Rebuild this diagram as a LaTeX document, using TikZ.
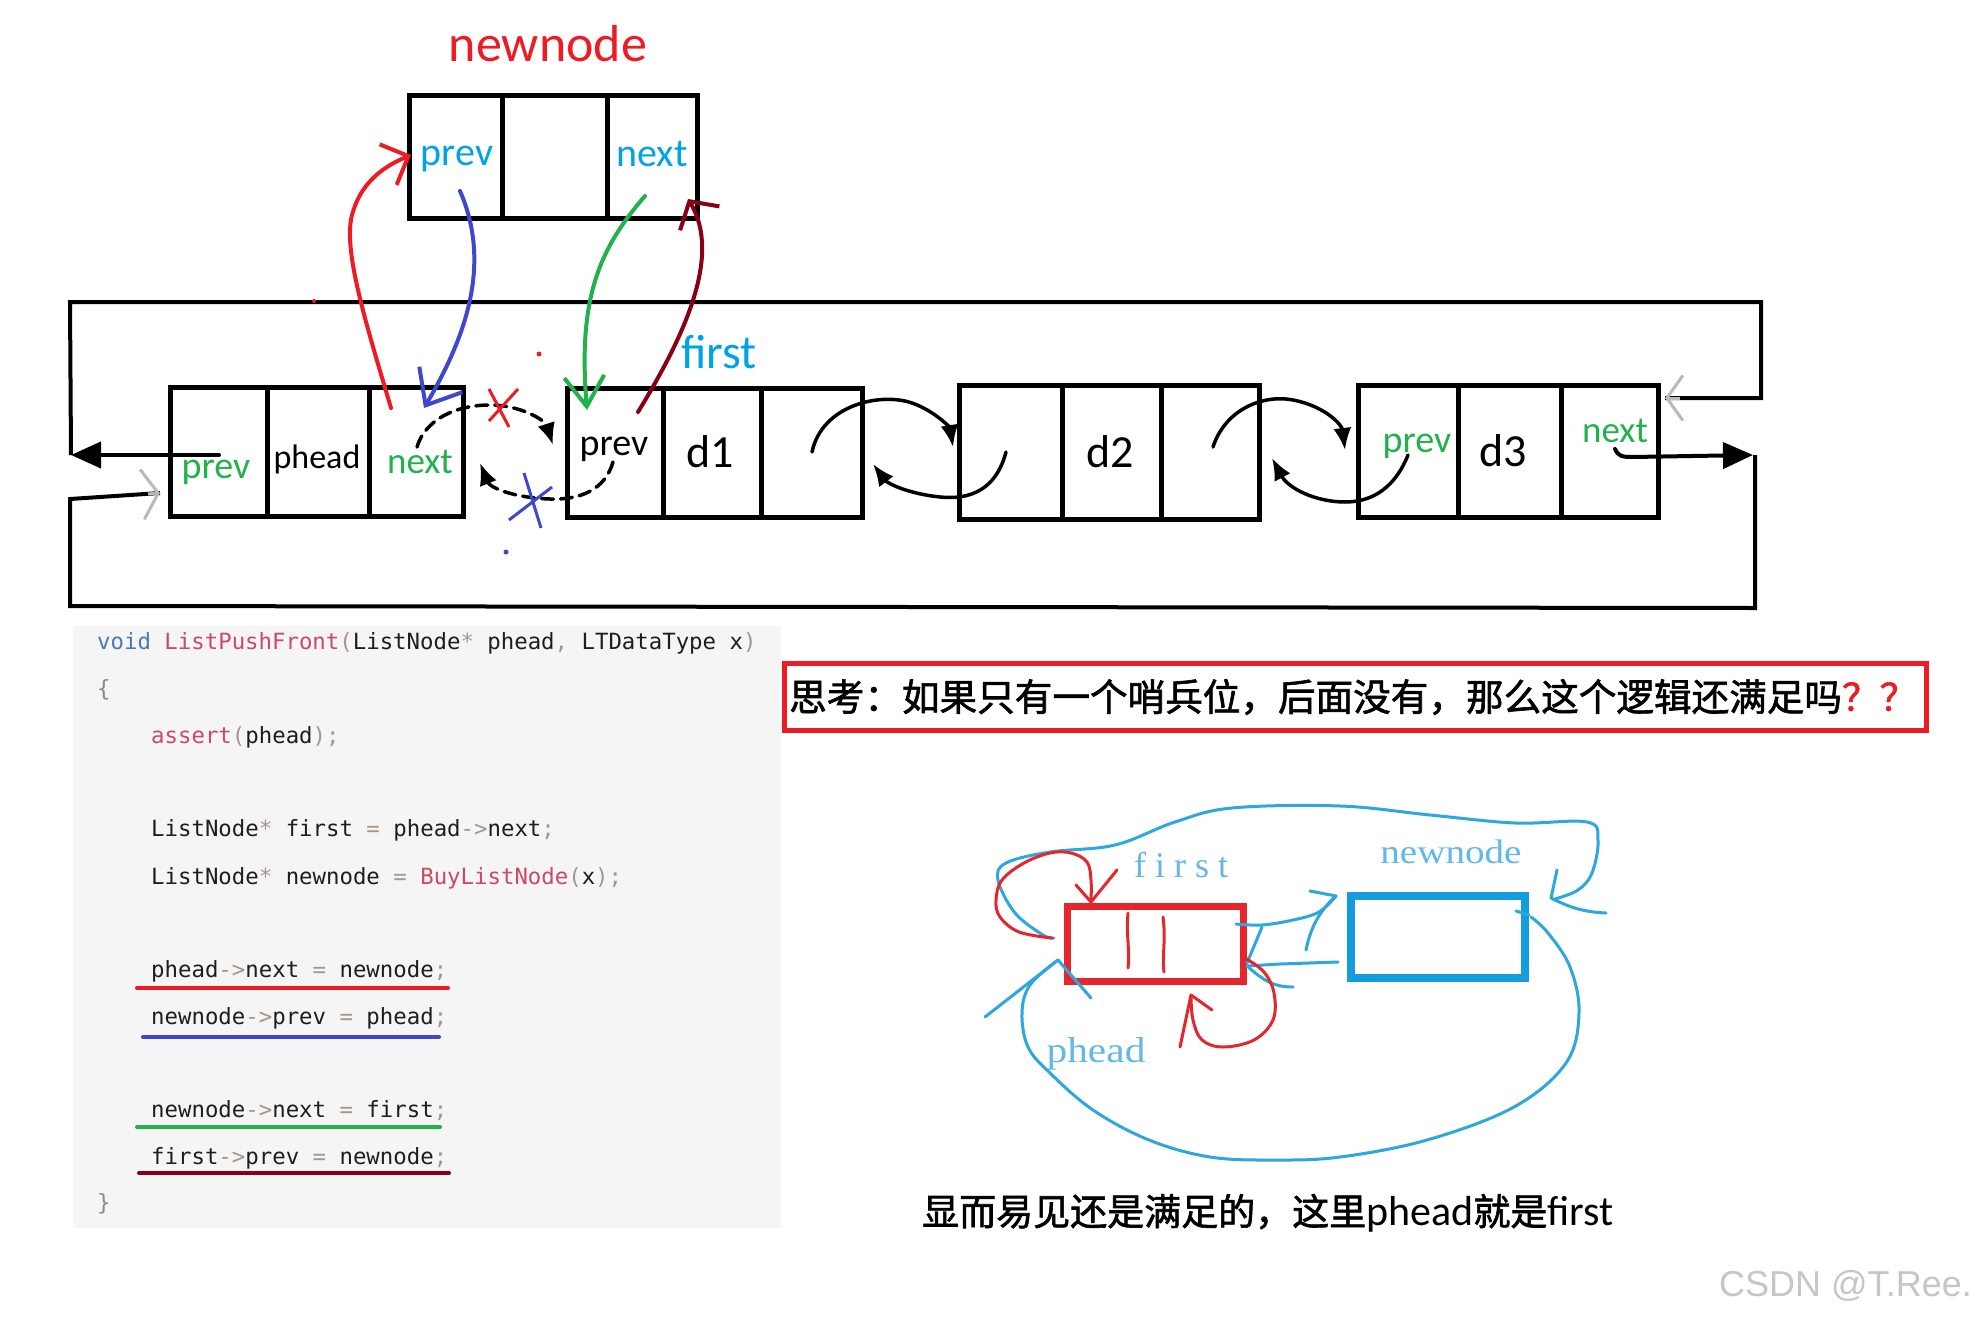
\documentclass[tikz,border=0pt]{standalone}
\usepackage{fontspec}
\setmainfont{Carlito}
\newfontfamily\cjkb[FakeBold=1.6]{Noto Sans CJK SC}
\newfontfamily\codef{DejaVu Sans Mono}
\newfontfamily\serf{Liberation Serif}
\newfontfamily\wmf{Liberation Sans}
\usetikzlibrary{arrows.meta}
\definecolor{pred}{HTML}{ED1C24}
\definecolor{pblue}{HTML}{3F48CC}
\definecolor{pgreen}{HTML}{22B14C}
\definecolor{pdred}{HTML}{880015}
\definecolor{pcyan}{HTML}{00A2E8}
\definecolor{codebg}{HTML}{F5F5F5}
\definecolor{kwc}{HTML}{4A78B0}
\definecolor{fnc}{HTML}{CA4A66}
\definecolor{puc}{HTML}{A6968A}
\definecolor{brc}{HTML}{8A8A8A}
\definecolor{txc}{HTML}{1E1E1E}
\definecolor{skb}{HTML}{2EA7DE}
\definecolor{skbox}{HTML}{149CDC}
\definecolor{skr}{HTML}{E5262D}
\definecolor{sktx}{HTML}{62B8E6}
\newcommand\cpu[1]{\textcolor{puc}{#1}}
\newcommand\fsz[1]{\fontsize{#1}{#1}\selectfont}
\begin{document}
\begin{tikzpicture}[x=1pt,y=-1pt,
  cell/.style={draw=black,line width=5pt,fill=white,inner sep=0pt},
  lbl/.style={inner sep=0pt},
  frame/.style={draw=black,line width=4pt,line join=miter},
  blk/.style={draw=black,line width=3.5pt,line cap=round},
  tri/.style={-{Latex[length=22pt,width=18pt]}},
  bigtri/.style={-{Triangle[length=30pt,width=26pt]}},
  dsh/.style={blk,dash pattern=on 12pt off 7pt},
  cline/.style={line width=4pt,line cap=round},
  gbarb/.style={draw=gray!55,line width=3pt,-{Straight Barb[length=16pt,width=50pt]}},
  code/.style={anchor=base west,inner sep=0pt,font=\codef\fsz{22.35},text=txc},
  uline/.style={line width=4pt,line cap=round},
  sk/.style={draw=skb,line width=3pt,line cap=round,line join=round},
  skred/.style={draw=skr,line width=3pt,line cap=round,line join=round},
  sktext/.style={inner sep=0pt,text=sktx,font=\serf\fsz{36}}
]
\useasboundingbox (0,0) rectangle (1975,1319);
\fill[white] (0,0) rectangle (1975,1319);

% ---------- newnode ----------
\node[lbl,text=pred,font=\fsz{52}] (nntitle) at (548,44) {newnode};
\node[cell,minimum width=92.5pt,minimum height=123pt] (n1) at (455.75,157) {};
\node[cell,minimum width=105pt,minimum height=123pt] (n2) at (554.5,157) {};
\node[cell,minimum width=90.5pt,minimum height=123pt] (n3) at (652.25,157) {};
\node[lbl,text=pcyan,font=\fsz{40}] (n1t) at (457,159) {prev};
\node[lbl,text=pcyan,font=\fsz{40}] (n3t) at (652,154) {next};

% ---------- list nodes ----------
\node[cell,minimum width=96.5pt,minimum height=129pt] (p1) at (218.75,452) {};
\node[cell,minimum width=102pt,minimum height=129pt] (p2) at (318,452) {};
\node[cell,minimum width=94.5pt,minimum height=129pt] (p3) at (416.25,452) {};
\node[cell,minimum width=95.5pt,minimum height=129pt] (a1) at (615.25,453) {};
\node[cell,minimum width=98pt,minimum height=129pt] (a2) at (712,453) {};
\node[cell,minimum width=101.5pt,minimum height=129pt] (a3) at (811.75,453) {};
\node[cell,minimum width=102.5pt,minimum height=134pt] (b1) at (1010.75,452.5) {};
\node[cell,minimum width=99pt,minimum height=134pt] (b2) at (1111.5,452.5) {};
\node[cell,minimum width=98.5pt,minimum height=134pt] (b3) at (1210.25,452.5) {};
\node[cell,minimum width=99.5pt,minimum height=132pt] (c1) at (1408.25,451.5) {};
\node[cell,minimum width=103pt,minimum height=132pt] (c2) at (1509.5,451.5) {};
\node[cell,minimum width=97.5pt,minimum height=132pt] (c3) at (1609.75,451.5) {};

\node[lbl,text=pgreen,font=\fsz{38}] (p1t) at (216,472) {prev};
\node[lbl,text=black,font=\fsz{34}] (p2t) at (317,459) {phead};
\node[lbl,text=pgreen,font=\fsz{37}] (p3t) at (420,462) {next};
\node[lbl,text=black,font=\fsz{38}] (a1t) at (614,449) {prev};
\node[lbl,text=black,font=\fsz{46}] (a2t) at (710,452) {d1};
\node[lbl,text=pcyan,font=\fsz{48}] (firstt) at (719,352) {first};
\node[lbl,text=black,font=\fsz{46}] (b2t) at (1110,452) {d2};
\node[lbl,text=pgreen,font=\fsz{38}] (c1t) at (1417,446) {prev};
\node[lbl,text=black,font=\fsz{46}] (c2t) at (1503,451) {d3};
\node[lbl,text=pgreen,font=\fsz{37}] (c3t) at (1615,431) {next};

% ---------- frame ----------
\coordinate (fTL) at (70,302);
\coordinate (fTR) at (1761,302);
\coordinate (fR1) at (1761,398);
\coordinate (fRin) at (1665,398);
\coordinate (fL1) at (71,455);
\coordinate (phprev) at (219,455);
\coordinate (d3nx) at (1615,449);
\coordinate (fBRt) at (1753,455);
\coordinate (fBR) at (1755,608);
\coordinate (fBL) at (70,606);
\coordinate (fL2) at (70,499);
\coordinate (fLin) at (160,493);
\draw[frame] (fL1) -- (fTL) -- (fTR) -- (fR1) -- (fRin);
\draw[gbarb,-{Straight Barb[length=16pt,width=45pt]}] (1680,398) -- (fRin);
\draw[blk,line width=4pt,bigtri] (phprev) -- (fL1);
\draw[blk,line width=4pt,bigtri] (d3nx) .. controls (1618,456) and (1622,457) .. (1632,457) -- (fBRt);
\draw[frame] (1755,455) -- (fBR) -- (fBL) -- (fL2) -- (fLin);
\draw[gbarb] (148,494) -- (fLin);

% ---------- black list connectors ----------
\coordinate (u1s) at (812,452);
\coordinate (u1e) at (953,447);
\draw[blk,tri] (u1s) .. controls (822,405) and (880,392) .. (912,403) .. controls (935,411) and (950,428) .. (u1e);
\coordinate (l1s) at (1006,452);
\coordinate (l1e) at (873,464);
\draw[blk,tri] (l1s) .. controls (996,490) and (970,500) .. (940,497) .. controls (910,494) and (888,484) .. (l1e);
\coordinate (u2s) at (1213,447);
\coordinate (u2e) at (1345,450);
\draw[blk,tri] (u2s) .. controls (1225,410) and (1262,394) .. (1293,400) .. controls (1325,406) and (1342,425) .. (u2e);
\coordinate (l2s) at (1408,455);
\coordinate (l2e) at (1272,458);
\draw[blk,tri] (l2s) .. controls (1396,485) and (1375,502) .. (1345,502) .. controls (1315,502) and (1288,488) .. (l2e);
\coordinate (u0s) at (417,447);
\coordinate (u0e) at (553,445);
\draw[dsh,tri] (u0s) .. controls (425,420) and (455,405) .. (490,405) .. controls (520,405) and (545,420) .. (u0e);
\coordinate (l0s) at (613,462);
\coordinate (l0e) at (480,463);
\draw[dsh,tri] (l0s) .. controls (605,490) and (580,500) .. (550,499) .. controls (515,498) and (490,488) .. (l0e);
\draw[pred,line width=3pt] (489,389) -- (509,427) (518,389) -- (489,421);
\draw[pblue,line width=3pt] (524,473) -- (541,528) (552,487) -- (509,520);
\fill[pred] (539,354) circle (2.5pt);
\fill[pblue] (506,552) circle (2.5pt);
\fill[pred] (314,301) circle (2pt);

% ---------- coloured arrows ----------
\coordinate (redS) at (391,408);
\coordinate (redE) at (411,155);
\draw[pred,cline,-{Straight Barb[length=22pt,width=44pt]}] (redS) .. controls (365,320) and (343,250) .. (352,215) .. controls (360,185) and (380,168) .. (redE);
\coordinate (blS) at (460,191);
\coordinate (blE) at (424,408);
\draw[pblue,cline,-{Straight Barb[length=30pt,width=50pt]}] (blS) .. controls (490,260) and (470,330) .. (blE);
\coordinate (grS) at (645,196);
\coordinate (grE) at (587,410);
\draw[pgreen,cline,-{Straight Barb[length=30pt,width=40pt]}] (grS) .. controls (598,250) and (578,300) .. (grE);
\coordinate (drS) at (638,412);
\coordinate (drE) at (688,199);
\draw[pdred,cline,-{Straight Barb[length=20pt,width=46pt]}] (drS) .. controls (685,335) and (722,255) .. (drE);

% ---------- code ----------
\node[fill=codebg,minimum width=708pt,minimum height=602pt,inner sep=0pt] (codebg) at (427,927) {};
\node[code] (k1) at (97,649) {\textcolor{kwc}{void} \textcolor{fnc}{ListPushFront}\cpu{(}ListNode\cpu{*} phead\cpu{,} LTDataType x\cpu{)}};
\node[code,text=brc] (k2) at (97,696) {\{};
\node[code] (k3) at (151,743) {\textcolor{fnc}{assert}\cpu{(}phead\cpu{);}};
\node[code] (k4) at (151,836) {ListNode\cpu{*} first \cpu{=} phead\cpu{->}next\cpu{;}};
\node[code] (k5) at (151,884) {ListNode\cpu{*} newnode \cpu{=} \textcolor{fnc}{BuyListNode}\cpu{(}x\cpu{);}};
\node[code] (k6) at (151,977) {phead\cpu{->}next \cpu{=} newnode\cpu{;}};
\node[code] (k7) at (151,1024) {newnode\cpu{->}prev \cpu{=} phead\cpu{;}};
\node[code] (k8) at (151,1117) {newnode\cpu{->}next \cpu{=} first\cpu{;}};
\node[code] (k9) at (151,1164) {first\cpu{->}prev \cpu{=} newnode\cpu{;}};
\node[code,text=brc] (k10) at (97,1210) {\}};
\draw[pred,uline] (137,988) -- (448,988);
\draw[pblue,uline] (143,1037) -- (439,1037);
\draw[pgreen,uline] (137,1127) -- (440,1127);
\draw[pdred,uline] (139,1173) -- (449,1173);

% ---------- question box ----------
\node[draw=pred,line width=5pt,minimum width=1142pt,minimum height=67pt,inner sep=0pt] (qbox) at (1355.5,697) {};
\node[anchor=west,inner sep=0pt,font=\cjkb\fsz{37.6}] (qtext) at (789,697) {思考：如果只有一个哨兵位，后面没有，那么这个逻辑还满足吗\textcolor{pred}{？？}};

% ---------- sketch ----------
\node[draw=skr,line width=7pt,minimum width=176pt,minimum height=75pt,inner sep=0pt] (rbox) at (1155,943.5) {};
\node[draw=skbox,line width=8pt,minimum width=174pt,minimum height=82pt,inner sep=0pt] (bbox) at (1438,937) {};
\draw[skred] (1128,913) .. controls (1126,935) and (1130,950) .. (1128,968);
\draw[skred] (1163,917) .. controls (1166,940) and (1162,955) .. (1164,972);
\node[sktext] (skfirst) at (1181,865) {f\hspace{9pt}i\hspace{9pt}r\hspace{9pt}s\hspace{9pt}t};
\node[sktext,font=\serf\fsz{34}] (sknew) at (1451,852) {\scalebox{1.15}[1]{newnode}};
\node[sktext] (skph) at (1096,1054) {\scalebox{1.15}[1]{phead}};
% upper loop
\draw[sk] plot[smooth,tension=0.6] coordinates {(1054,938) (1043,935) (1015,913) (998,880) (1006,863) (1050,852) (1115,845) (1175,822) (1232,808) (1340,806) (1430,815) (1515,823) (1587,822) (1598,840) (1592,873) (1578,890) (1555,899)};
\draw[sk] (1557,870) -- (1551,898) .. controls (1565,905) and (1580,912) .. (1606,913);
% lower loop
\draw[sk] (1516,911) -- (1529,915);
\draw[sk] plot[smooth,tension=0.6] coordinates {(1531,917) (1548,933) (1570,967) (1579,1013) (1566,1063) (1514,1107) (1427,1140) (1340,1157) (1275,1160) (1210,1157) (1149,1140) (1093,1110) (1050,1073) (1028,1047) (1022,1013) (1030,985) (1058,960)};
\draw[sk] (985,1017) -- (1058,960) -- (1091,998);
% between boxes
\draw[sk] plot[smooth,tension=0.6] coordinates {(1236,924) (1262,925) (1293,920) (1319,912) (1336,896)};
\draw[sk] (1310,891) -- (1336,896);
\draw[sk] (1306,950) .. controls (1310,930) and (1318,912) .. (1336,896);
\draw[sk] (1338,962) -- (1280,964) -- (1247,966);
\draw[sk] (1262,927) -- (1247,963);
\draw[sk] (1247,966) .. controls (1265,982) and (1275,987) .. (1293,987);
% red loops
\draw[skred] plot[smooth,tension=0.6] coordinates {(1052,938) (1019,932) (1000,917) (996,900) (1002,880) (1024,863) (1050,853) (1071,853) (1087,862) (1091,880) (1091,901)};
\draw[skred] (1076,885) -- (1091,902) -- (1117,870);
\draw[skred] plot[smooth,tension=0.6] coordinates {(1245,958) (1264,972) (1274,993) (1273,1020) (1254,1040) (1223,1047) (1202,1040) (1193,1020) (1191,997)};
\draw[skred] (1212,1010) -- (1191,995) -- (1180,1047);

% ---------- bottom text ----------
\node[anchor=west,inner sep=0pt] (conc) at (922,1213) {{\cjkb\fsz{37}显而易见还是满足的，这里}{\fsz{42}phead}{\cjkb\fsz{37}就是}{\fsz{42}first}};
\node[anchor=east,inner sep=0pt,text=gray!45,font=\wmf\fsz{36}] (wm) at (1972,1286) {CSDN @T.Ree.};
\end{tikzpicture}
\end{document}
